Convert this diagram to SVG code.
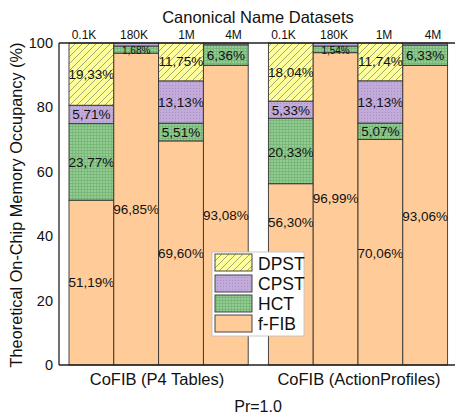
<svg xmlns="http://www.w3.org/2000/svg" width="455" height="418" viewBox="0 0 455 418">
<defs>
<pattern id="pD" patternUnits="userSpaceOnUse" width="7" height="7">
<rect width="7" height="7" fill="#FFFF99"/>
<path d="M-1,8 L8,-1 M-1,1 L1,-1 M6,8 L8,6" stroke="#666" stroke-width="0.6"/>
</pattern>
<pattern id="pC" patternUnits="userSpaceOnUse" width="3" height="3">
<rect width="3" height="3" fill="#C2ABDA"/>
<rect x="1" y="1" width="1" height="1" fill="#A991C6"/>
</pattern>
<pattern id="pH" patternUnits="userSpaceOnUse" width="3" height="3">
<rect width="3" height="3" fill="#93CC93"/>
<path d="M0,0.5 H3 M0.5,0 V3" stroke="#74B474" stroke-width="0.8"/>
</pattern>
<style>
.seg{stroke:#333;stroke-width:0.9}
.D{fill:url(#pD)} .C{fill:url(#pC)} .H{fill:url(#pH)} .F{fill:#FFCC99}
text{font-family:"Liberation Sans",Arial,sans-serif;fill:#111}
.v{font-size:13.5px;text-anchor:middle;dominant-baseline:central}
.vs{font-size:10px;text-anchor:middle;dominant-baseline:central}
.t{font-size:14.5px;text-anchor:end;dominant-baseline:central}
.c{font-size:12px;text-anchor:middle}
.lg{font-size:17.5px}
</style>
</defs>
<rect width="455" height="418" fill="#fff"/>
<g id="bar-p4-01k">
<rect class="seg F" x="69" y="200.17" width="44.8" height="164.83"/>
<rect class="seg H" x="69" y="123.63" width="44.8" height="76.54"/>
<rect class="seg C" x="69" y="105.24" width="44.8" height="18.39"/>
<rect class="seg D" x="69" y="43" width="44.8" height="62.24"/>
<text class="v" x="91.4" y="74.1">19,33%</text>
<text class="v" x="91.4" y="114.6">5,71%</text>
<text class="v" x="91.4" y="162">23,77%</text>
<text class="v" x="91.4" y="282.8">51,19%</text>
</g>
<g id="bar-p4-180k">
<rect class="seg F" x="113.8" y="53.14" width="44.8" height="311.86"/>
<rect class="seg H" x="113.8" y="46" width="44.8" height="7.14"/>
<rect class="seg C" x="113.8" y="43" width="44.8" height="3"/>
<text class="vs" x="136.2" y="50.5">1,68%</text>
<text class="v" x="136.2" y="209.5">96,85%</text>
</g>
<g id="bar-p4-1m">
<rect class="seg F" x="158.6" y="140.89" width="44.8" height="224.11"/>
<rect class="seg H" x="158.6" y="123.15" width="44.8" height="17.74"/>
<rect class="seg C" x="158.6" y="80.87" width="44.8" height="42.28"/>
<rect class="seg D" x="158.6" y="43" width="44.8" height="37.87"/>
<text class="v" x="181" y="61.8">11,75%</text>
<text class="v" x="181" y="102.3">13,13%</text>
<text class="v" x="181" y="132.2">5,51%</text>
<text class="v" x="181" y="253.3">69,60%</text>
</g>
<g id="bar-p4-4m">
<rect class="seg F" x="203.4" y="65.28" width="44.8" height="299.72"/>
<rect class="seg H" x="203.4" y="44.8" width="44.8" height="20.48"/>
<rect class="seg C" x="203.4" y="43" width="44.8" height="1.8"/>
<text class="v" x="225.8" y="55">6,36%</text>
<text class="v" x="225.8" y="215.5">93,08%</text>
</g>
<g id="bar-ap-01k">
<rect class="seg F" x="268.4" y="183.71" width="44.8" height="181.29"/>
<rect class="seg H" x="268.4" y="118.25" width="44.8" height="65.46"/>
<rect class="seg C" x="268.4" y="101.09" width="44.8" height="17.16"/>
<rect class="seg D" x="268.4" y="43" width="44.8" height="58.09"/>
<text class="v" x="290.8" y="72.3">18,04%</text>
<text class="v" x="290.8" y="110">5,33%</text>
<text class="v" x="290.8" y="152">20,33%</text>
<text class="v" x="290.8" y="222">56,30%</text>
</g>
<g id="bar-ap-180k">
<rect class="seg F" x="313.2" y="52.69" width="44.8" height="312.31"/>
<rect class="seg H" x="313.2" y="46" width="44.8" height="6.69"/>
<rect class="seg C" x="313.2" y="43" width="44.8" height="3"/>
<text class="vs" x="335.6" y="50.3">1,54%</text>
<text class="v" x="335.6" y="198">96,99%</text>
</g>
<g id="bar-ap-1m">
<rect class="seg F" x="358" y="139.41" width="44.8" height="225.59"/>
<rect class="seg H" x="358" y="123.08" width="44.8" height="16.33"/>
<rect class="seg C" x="358" y="80.8" width="44.8" height="42.28"/>
<rect class="seg D" x="358" y="43" width="44.8" height="37.8"/>
<text class="v" x="380.4" y="61.8">11,74%</text>
<text class="v" x="380.4" y="102.5">13,13%</text>
<text class="v" x="380.4" y="131.3">5,07%</text>
<text class="v" x="380.4" y="253.3">70,06%</text>
</g>
<g id="bar-ap-4m">
<rect class="seg F" x="402.8" y="65.35" width="44.8" height="299.65"/>
<rect class="seg H" x="402.8" y="44.97" width="44.8" height="20.38"/>
<rect class="seg C" x="402.8" y="43" width="44.8" height="1.97"/>
<text class="v" x="425.2" y="55.5">6,33%</text>
<text class="v" x="425.2" y="216">93,06%</text>
</g>
<g id="axes" stroke="#222" stroke-width="1.3" fill="none">
<path d="M59,43 V365 M59,43 H455 M59,365 H455"/>
</g>
<g id="y-ticks">
<text class="t" x="53" y="365">0</text>
<text class="t" x="53" y="300.6">20</text>
<text class="t" x="53" y="236.2">40</text>
<text class="t" x="53" y="171.8">60</text>
<text class="t" x="53" y="107.4">80</text>
<text class="t" x="53" y="43">100</text>
</g>
<text id="y-title" transform="translate(22,205) rotate(-90)" font-size="16.3" text-anchor="middle">Theoretical On-Chip Memory Occupancy (%)</text>
<text id="top-title" x="258" y="23" font-size="16.5" text-anchor="middle">Canonical Name Datasets</text>
<g id="top-labels">
<text class="c" x="84" y="38.5">0.1K</text>
<text class="c" x="134" y="38.5">180K</text>
<text class="c" x="186.5" y="38.5">1M</text>
<text class="c" x="233.5" y="38.5">4M</text>
<text class="c" x="283.5" y="38.5">0.1K</text>
<text class="c" x="334" y="38.5">180K</text>
<text class="c" x="384" y="38.5">1M</text>
<text class="c" x="433" y="38.5">4M</text>
</g>
<text id="xl1" x="157" y="385" font-size="16.5" text-anchor="middle">CoFIB (P4 Tables)</text>
<text id="xl2" x="359" y="385" font-size="16.5" text-anchor="middle">CoFIB (ActionProfiles)</text>
<text id="pr" x="258" y="412" font-size="16" text-anchor="middle">Pr=1.0</text>
<g id="legend">
<rect x="212" y="252" width="92" height="84" fill="#fff" stroke="#bbb" stroke-width="0.8"/>
<rect class="seg D" x="215" y="254" width="37" height="17"/>
<rect class="seg C" x="215" y="275" width="37" height="17"/>
<rect class="seg H" x="215" y="295" width="37" height="17"/>
<rect class="seg F" x="215" y="315" width="37" height="17"/>
<text class="lg" x="258" y="269.5">DPST</text>
<text class="lg" x="258" y="289.5">CPST</text>
<text class="lg" x="258" y="309.5">HCT</text>
<text class="lg" x="258" y="330">f-FIB</text>
</g>
</svg>
